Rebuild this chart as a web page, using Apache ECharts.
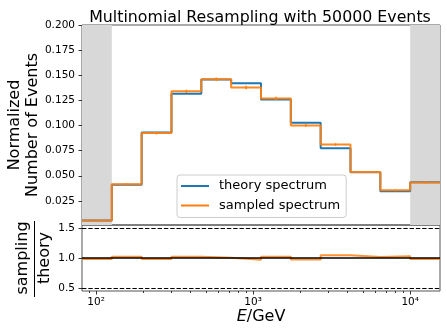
<!DOCTYPE html>
<html><head><meta charset="utf-8">
<script src="https://cdn.jsdelivr.net/npm/echarts@6/dist/echarts.min.js"></script>
<style>html,body{margin:0;padding:0;background:#fff}#c{width:447px;height:336px}</style>
</head><body><div id="c"></div>
<script>
// ---- data ----
const binEdges = [81.3, 125.9, 195.0, 302.0, 467.7, 724.4, 1122.0, 1737.8, 2691.5, 4168.7, 6456.5, 10000.0, 15488.2];
const theory   = [0.0055, 0.0410, 0.0930, 0.1316, 0.1458, 0.1421, 0.1259, 0.1027, 0.0774, 0.0535, 0.0347, 0.0435];
const sampled  = [0.0054, 0.0415, 0.0925, 0.1340, 0.1460, 0.1378, 0.1269, 0.1000, 0.0810, 0.0537, 0.0355, 0.0433];
const sampledErr = [0.0003, 0.0009, 0.0014, 0.0016, 0.0017, 0.0017, 0.0016, 0.0014, 0.0013, 0.0010, 0.0008, 0.0009];
const ratio    = [0.985, 1.020, 0.985, 1.020, 1.003, 0.970, 1.020, 0.975, 1.045, 1.015, 1.030, 0.985];
const topTicks = [0.025, 0.05, 0.075, 0.1, 0.125, 0.15, 0.175, 0.2];
const ratioTicks = [0.5, 1.0, 1.5];
const ratioDashed = [0.5, 1.5];
const ratioRef = 1.0;
const xMajor = [100, 1000, 10000];
const xMajorLabels = ['10²', '10³', '10⁴'];
const xMinor = [90, 200, 300, 400, 500, 600, 700, 800, 900, 2000, 3000, 4000, 5000, 6000, 7000, 8000, 9000];
const legendNames = ['theory spectrum', 'sampled spectrum'];
const titleText = 'Multinomial Resampling with 50000 Events';

const FF = "'DejaVu Sans', sans-serif";
const BLUE = '#1f77b4', ORANGE = '#ff7f0e';

function stepData(vals) {
  const d = vals.map((v, i) => [binEdges[i], v]);
  d.push([binEdges[binEdges.length - 1], vals[vals.length - 1]]);
  return d;
}
const centers = binEdges.slice(0, -1).map((e, i) => Math.sqrt(e * binEdges[i + 1]));
const xmin = binEdges[0], xmax = binEdges[binEdges.length - 1];
const nb = binEdges.length - 1;

const chart = echarts.init(document.getElementById('c'), null, {renderer: 'canvas'});
chart.setOption({
  animation: false,
  backgroundColor: '#fff',
  textStyle: {fontFamily: FF},
  title: {text: titleText, left: 255, textAlign: 'center', top: 5,
    textStyle: {fontSize: 15.8, fontWeight: 'normal', color: '#000', fontFamily: FF}},
  legend: {
    data: legendNames, orient: 'vertical', left: 177, top: 175,
    icon: 'rect', itemWidth: 28, itemHeight: 2, itemGap: 3.5,
    padding: [3, 6, 4, 4],
    backgroundColor: 'rgba(255,255,255,0.8)', borderColor: '#cccccc', borderWidth: 1, borderRadius: 3,
    textStyle: {fontSize: 13, fontFamily: FF, color: '#000', lineHeight: 16, padding: [0, 0, 0, 5]}
  },
  grid: [
    {left: 82, top: 25, width: 358, height: 200, show: true, borderColor: '#555', borderWidth: 1, backgroundColor: 'transparent'},
    {left: 82, top: 225, width: 358, height: 66, show: true, borderColor: '#555', borderWidth: 1, backgroundColor: 'transparent'}
  ],
  xAxis: [
    {gridIndex: 0, type: 'log', logBase: 10, min: xmin, max: xmax,
      axisLine: {show: false}, axisTick: {show: false}, axisLabel: {show: false}, splitLine: {show: false}},
    {gridIndex: 1, type: 'log', logBase: 10, min: xmin, max: xmax, position: 'bottom',
      axisLine: {show: false}, splitLine: {show: false},
      axisTick: {show: true, customValues: xMajor, length: 3.5, lineStyle: {color: '#333', width: 1}},
      axisLabel: {show: true, customValues: xMajor, margin: 6, fontSize: 10.5, color: '#000', fontFamily: FF,
        formatter: v => xMajorLabels[Math.round(Math.log10(v)) - 2]},
      name: '{i|E}/GeV', nameLocation: 'middle', nameGap: 18,
      nameTextStyle: {fontSize: 16, color: '#000', fontFamily: FF,
        rich: {i: {fontStyle: 'italic', fontSize: 16, color: '#000', fontFamily: FF}}}},
    {gridIndex: 1, type: 'log', logBase: 10, min: xmin, max: xmax, position: 'bottom',
      axisLine: {show: false}, splitLine: {show: false}, axisLabel: {show: false},
      axisTick: {show: true, customValues: xMinor, length: 2, lineStyle: {color: '#333', width: 1}}}
  ],
  yAxis: [
    {gridIndex: 0, type: 'value', min: 0.001, max: 0.2,
      axisLine: {show: false}, splitLine: {show: false},
      axisTick: {show: true, customValues: topTicks, length: 3.5, lineStyle: {color: '#333', width: 1}},
      axisLabel: {customValues: topTicks, formatter: v => v.toFixed(3), margin: 7, fontSize: 10.5, color: '#000', fontFamily: FF}},
    {gridIndex: 1, type: 'value', min: 0.45, max: 1.55,
      axisLine: {show: false}, splitLine: {show: false},
      axisTick: {show: true, customValues: ratioTicks, length: 3.5, lineStyle: {color: '#333', width: 1}},
      axisLabel: {customValues: ratioTicks, formatter: v => v.toFixed(1), margin: 7, fontSize: 10.5, color: '#000', fontFamily: FF}}
  ],
  series: [
    {name: legendNames[0], type: 'line', xAxisIndex: 0, yAxisIndex: 0, step: 'end',
      data: stepData(theory), symbol: 'none', color: BLUE, z: 2,
      lineStyle: {color: BLUE, width: 2},
      markArea: {silent: true, itemStyle: {color: '#d8d8d8', opacity: 1},
        data: [[{xAxis: binEdges[0]}, {xAxis: binEdges[1]}], [{xAxis: binEdges[nb - 1]}, {xAxis: binEdges[nb]}]]}},
    {name: legendNames[1], type: 'line', xAxisIndex: 0, yAxisIndex: 0, step: 'end',
      data: stepData(sampled), symbol: 'none', color: ORANGE, z: 3,
      lineStyle: {color: ORANGE, width: 2, opacity: 0.92}},
    {name: 'err', type: 'custom', xAxisIndex: 0, yAxisIndex: 0, z: 4,
      data: sampled.map((v, i) => [centers[i], v - sampledErr[i], v + sampledErr[i]]),
      encode: {x: 0, y: [1, 2]},
      renderItem: (params, api) => {
        const p1 = api.coord([api.value(0), api.value(1)]);
        const p2 = api.coord([api.value(0), api.value(2)]);
        return {type: 'line', shape: {x1: p1[0], y1: p1[1], x2: p2[0], y2: p2[1]},
          style: {stroke: ORANGE, lineWidth: 1.5}};
      }},
    {name: 'ratio', type: 'line', xAxisIndex: 1, yAxisIndex: 1, step: 'end',
      data: stepData(ratio), symbol: 'none', color: ORANGE, z: 2,
      lineStyle: {color: ORANGE, width: 2, opacity: 0.85},
      markLine: {silent: true, symbol: 'none', label: {show: false}, z: 5,
        data: [
          ...ratioDashed.map(v => ({yAxis: v, lineStyle: {type: [4.4, 1.9], color: '#000', width: 1.2}})),
          {yAxis: ratioRef, lineStyle: {type: 'solid', color: '#000', width: 1.5}}
        ]}}
  ],
  graphic: [
    {type: 'text', x: 15, y: 125, rotation: Math.PI / 2,
      style: {text: 'Normalized', font: "16px 'DejaVu Sans'", fill: '#000', align: 'center', verticalAlign: 'middle'}},
    {type: 'text', x: 33, y: 125, rotation: Math.PI / 2,
      style: {text: 'Number of Events', font: "16px 'DejaVu Sans'", fill: '#000', align: 'center', verticalAlign: 'middle'}},
    {type: 'text', x: 22.5, y: 258, rotation: Math.PI / 2,
      style: {text: 'sampling', font: "16px 'DejaVu Sans'", fill: '#000', align: 'center', verticalAlign: 'middle'}},
    {type: 'line', shape: {x1: 34.5, y1: 221, x2: 34.5, y2: 297}, style: {stroke: '#000', lineWidth: 1}},
    {type: 'text', x: 45, y: 258, rotation: Math.PI / 2,
      style: {text: 'theory', font: "16px 'DejaVu Sans'", fill: '#000', align: 'center', verticalAlign: 'middle'}}
  ]
});
</script></body></html>
